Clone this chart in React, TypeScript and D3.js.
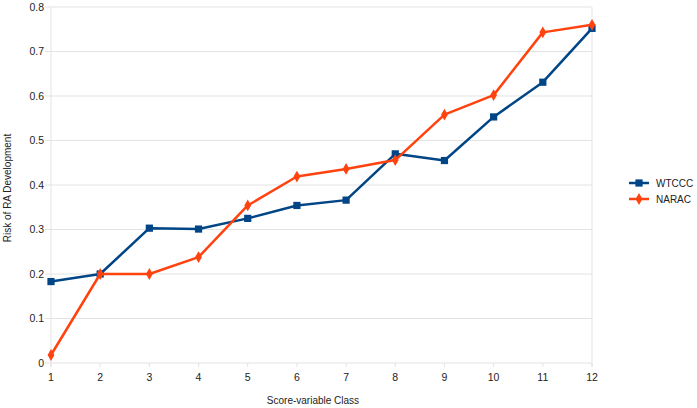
import React from "react";
import * as d3 from "d3";

// score-variable classes on the x axis
const classes = [1, 2, 3, 4, 5, 6, 7, 8, 9, 10, 11, 12];
const wtccc = [0.183, 0.2, 0.303, 0.301, 0.325, 0.354, 0.366, 0.47, 0.455, 0.553, 0.631, 0.752];
const narac = [0.018, 0.2, 0.2, 0.238, 0.354, 0.419, 0.436, 0.456, 0.558, 0.602, 0.743, 0.76];
const yTicks = [0, 0.1, 0.2, 0.3, 0.4, 0.5, 0.6, 0.7, 0.8];
const seriesNames = ["WTCCC", "NARAC"];

const W = 697;
const H = 408;
const FONT = "'Liberation Sans', Arial, sans-serif";

const App = () => {
  const x = d3.scaleLinear().domain([1, 12]).range([51, 592]);
  const y = d3.scaleLinear().domain([0, 0.8]).range([363, 7]);

  const line = d3
    .line<number>()
    .x((_, i) => x(classes[i]))
    .y((d) => y(d));

  const square = d3.symbol().type(d3.symbolSquare).size(52)();
  const diamond = d3.symbol().type(d3.symbolDiamond).size(40)();

  const series = [
    { name: seriesNames[0], values: wtccc, color: "#004586", marker: square },
    { name: seriesNames[1], values: narac, color: "#ff420e", marker: diamond },
  ];

  return (
    <svg
      width={W}
      height={H}
      style={{ position: "absolute", left: 0, top: 0, background: "#fff" }}
      fontFamily={FONT}
    >
      {/* horizontal grid + y tick labels */}
      {yTicks.map((t) => (
        <g key={t}>
          <line x1={45} x2={592} y1={y(t)} y2={y(t)} stroke="#e3e3e3" strokeWidth={1} />
          <text x={44} y={y(t)} dy="0.35em" textAnchor="end" fontSize={10.5} fill="#222">
            {t === 0 ? "0" : t.toFixed(1)}
          </text>
        </g>
      ))}

      {/* frame lines left / right */}
      <line x1={x(1)} x2={x(1)} y1={y(0.8)} y2={y(0) + 4} stroke="#e3e3e3" />
      <line x1={x(12)} x2={x(12)} y1={y(0.8)} y2={y(0) + 4} stroke="#e3e3e3" />

      {/* x ticks */}
      {classes.map((c) => (
        <g key={c}>
          <line x1={x(c)} x2={x(c)} y1={y(0)} y2={y(0) + 4} stroke="#e3e3e3" />
          <text x={x(c)} y={y(0) + 18} textAnchor="middle" fontSize={10.5} fill="#222">
            {c}
          </text>
        </g>
      ))}

      {/* series */}
      {series.map((s) => (
        <g key={s.name}>
          <path d={line(s.values) || ""} fill="none" stroke={s.color} strokeWidth={2.5} strokeLinejoin="round" />
          {s.values.map((v, i) => (
            <path key={i} d={s.marker || ""} transform={`translate(${x(classes[i])},${y(v)})`} fill={s.color} />
          ))}
        </g>
      ))}

      {/* axis titles */}
      <text x={313} y={404} textAnchor="middle" fontSize={10} fill="#222">
        Score-variable Class
      </text>
      <text transform={`translate(11,${188}) rotate(-90)`} textAnchor="middle" fontSize={10} fill="#222">
        Risk of RA Development
      </text>

      {/* legend */}
      {series.map((s, i) => (
        <g key={s.name} transform={`translate(629,${183 + i * 16})`}>
          <line x1={0} x2={20} y1={0} y2={0} stroke={s.color} strokeWidth={2.5} />
          <path d={s.marker || ""} transform="translate(10,0)" fill={s.color} />
          <text x={27} y={0} dy="0.35em" fontSize={10} fill="#222">
            {s.name}
          </text>
        </g>
      ))}
    </svg>
  );
};

export default App;
